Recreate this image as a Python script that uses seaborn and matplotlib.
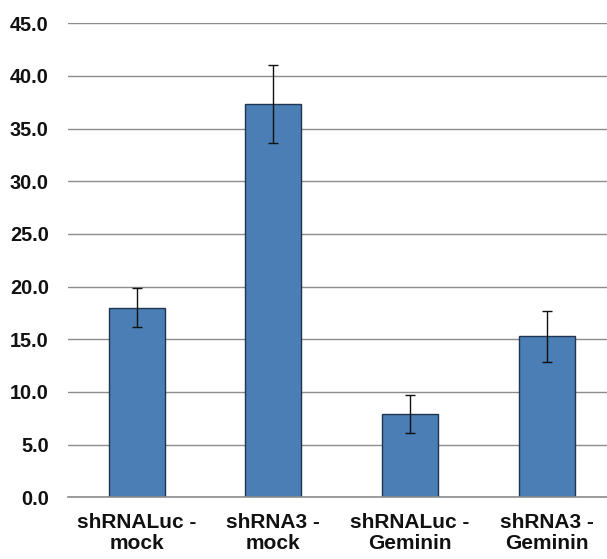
import numpy as np
import pandas as pd
import matplotlib
matplotlib.use("Agg")
import matplotlib.pyplot as plt
import seaborn as sns

categories = ["shRNALuc -\nmock", "shRNA3 -\nmock", "shRNALuc -\nGeminin", "shRNA3 -\nGeminin"]
values = [18.0, 37.3, 7.9, 15.3]
errors = [1.83, 3.7, 1.78, 2.43]
yticks = [0, 5, 10, 15, 20, 25, 30, 35, 40, 45]

sns.set_theme(style="white")
plt.rcParams['font.family'] = ['Liberation Sans', 'DejaVu Sans']

df = pd.DataFrame({"cat": categories, "val": values})

fig = plt.figure(figsize=(6.07, 5.59), dpi=100)
ax = fig.add_axes([68.3 / 607, (559 - 497.3) / 559, 546.7 / 607, (497.3 - 23.3) / 559])

sns.barplot(data=df, x="cat", y="val", ax=ax, color="#4A7EB4", width=0.41,
            edgecolor="#1F3550", linewidth=1.0, saturation=1, errorbar=None, zorder=2)

pos = np.arange(len(categories))
ax.errorbar(pos, values, yerr=errors, fmt="none", ecolor="#111111",
            elinewidth=1.0, capsize=3.9, capthick=1.0, zorder=3)

ax.set_ylim(0, 45)
ax.set_xlim(-0.5, len(categories) - 0.5)
ax.set_yticks(yticks)
ax.set_yticklabels([f"{v:.1f}" for v in yticks])
ax.set_xlabel("")
ax.set_ylabel("")

ax.set_axisbelow(True)
ax.yaxis.grid(True, color="#8C8C8C", linewidth=1.0)
ax.xaxis.grid(False)

for s in ["left", "top", "right"]:
    ax.spines[s].set_visible(False)
ax.spines["bottom"].set_color("#8C8C8C")
ax.spines["bottom"].set_linewidth(1.2)

ax.tick_params(axis="y", length=0, pad=14, labelsize=14.3, labelcolor="#111111")
ax.tick_params(axis="x", which="major", length=0, pad=11, labelsize=15, labelcolor="#111111")
ax.set_xticks(np.arange(-0.5, len(categories), 1.0), minor=True)
ax.tick_params(axis="x", which="minor", length=5, width=1.0, color="#8C8C8C", direction="out")

for lab in ax.get_yticklabels() + ax.get_xticklabels():
    lab.set_fontweight("bold")
for lab in ax.get_xticklabels():
    lab.set_linespacing(1.15)

fig.savefig("out.png", dpi=100)
